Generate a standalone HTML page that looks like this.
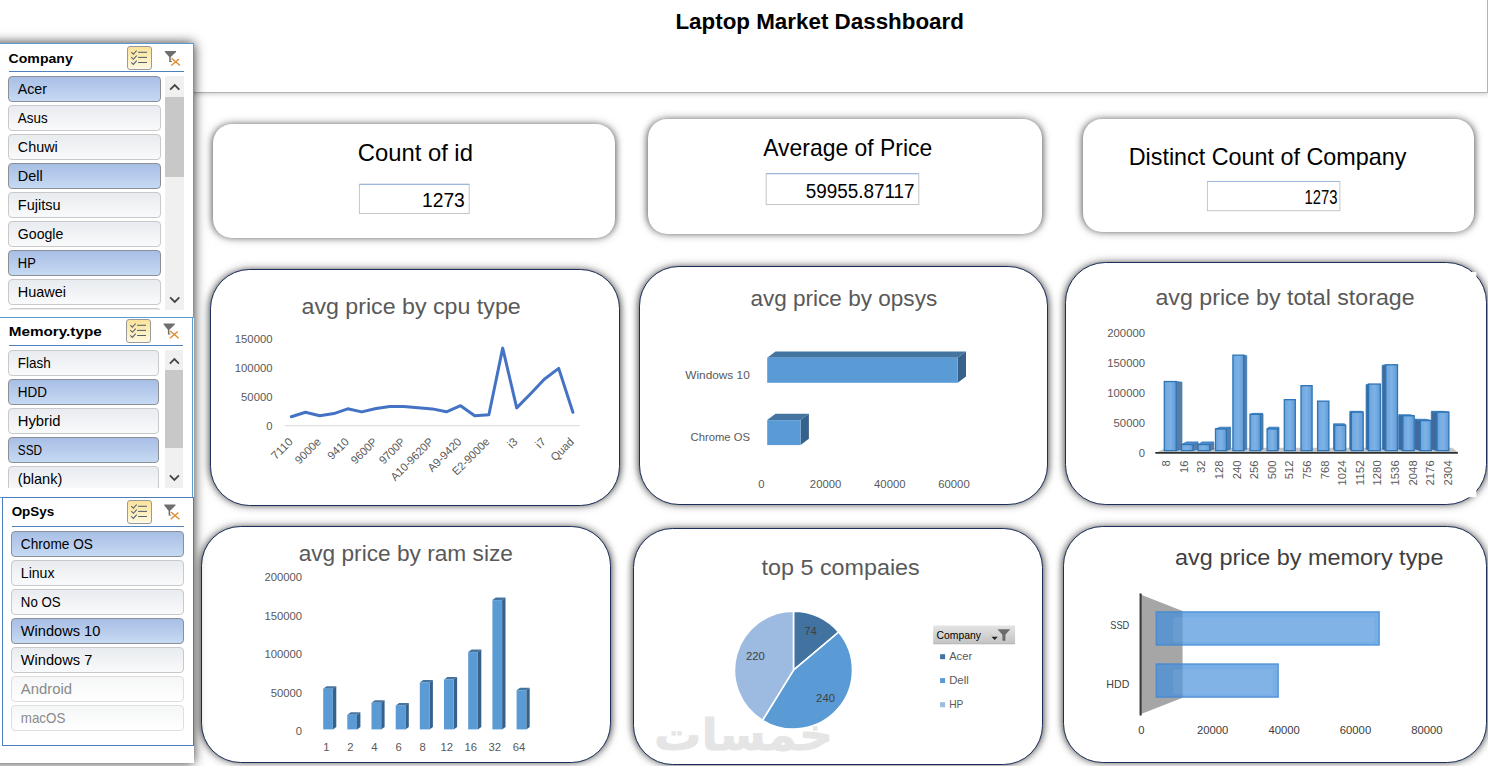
<!DOCTYPE html>
<html lang="en"><head><meta charset="utf-8"><title>Laptop Market Dasshboard</title>
<style>
html,body{margin:0;padding:0;background:#fff}
body{width:1488px;height:766px;overflow:hidden;position:relative;font-family:"Liberation Sans",sans-serif}
#page{position:absolute;left:0;top:0;width:1488px;height:766px;overflow:hidden;background:#fff}
.abs{position:absolute}
svg{display:block;overflow:visible}
svg text{font-family:"Liberation Sans",sans-serif}
.titlebox{position:absolute;box-sizing:border-box;background:#fff;border:1.1px solid #b2b2b2;border-left:0;box-shadow:0 2px 4px rgba(0,0,0,.16)}
.kpi{position:absolute;background:#fff;border-radius:18px;box-shadow:0 0 9px rgba(0,0,0,.5),-4px 0 7px -4px rgba(0,0,0,.4),4px 0 7px -4px rgba(0,0,0,.4)}
.kpi svg,.chart svg{position:absolute;left:0;top:0}
.chart{position:absolute;background:#fff;box-sizing:border-box;border:1.2px solid #1b2f5a;box-shadow:0 0 8px rgba(0,0,0,.5),-4px 0 7px -4px rgba(0,0,0,.45),4px 0 7px -4px rgba(0,0,0,.45)}
.panel{position:absolute;background:#fff;box-shadow:0 0 11px rgba(0,0,0,.8)}
.slicer{position:absolute;box-sizing:border-box;background:#fff;border:1px solid #5b9bd5}
.slicer.ops{border-color:#4a7ebb}
.msbtn{position:absolute;width:25px;height:24px;box-sizing:border-box;border:1px solid #9a9a9a;border-radius:3px;background:linear-gradient(#fbe39a 0%,#fcecb5 45%,#fff9e3 100%)}
.ul{position:absolute;height:0;border-top:1.2px solid #4f81bd}
.item{position:absolute;height:26px;box-sizing:border-box;border-radius:4px;border:1px solid #cfcfcf}
.item.sel{background:linear-gradient(#a8bee5,#c6daf3);border-color:#8b8f96}
.item.un{background:linear-gradient(#e8ebef,#f9fafb);border-color:#c9c9c9}
.item.dis{background:linear-gradient(#f5f6f7,#fff);border-color:#dedede}
.item svg.it{position:absolute;left:-1px;top:-1px}
.sb{position:absolute;background:#f0f0f0}
.sb .thumb{position:absolute;left:0;right:0;background:#c8c8c8}
.sb .arr{position:absolute;left:0}
</style></head>
<body><div id="page">
<div class="titlebox" style="left:-60px;top:-3px;width:1548px;height:95.7px"></div>
<div class="abs" style="left:600px;top:0;width:450px;height:50px"><svg class="" width="450" height="50" viewBox="600 0 450 50"><text x="675.40" y="29.10" font-size="22.70" textLength="288.57" lengthAdjust="spacingAndGlyphs" fill="#000" font-weight="bold">Laptop Market Dasshboard</text></svg></div>
<div class="kpi" style="left:212.7px;top:124.0px;width:402.40px;height:113.75px;border-radius:19.0px"><svg class="" width="402.4" height="113.75" viewBox="212.7 124.0 402.4 113.75"><text x="357.44" y="160.70" font-size="23.20" textLength="115.19" lengthAdjust="spacingAndGlyphs" fill="#000">Count of id</text><rect x="359.1" y="184.4" width="109.80" height="29.10" fill="#fff" stroke="#c6c6c6" stroke-width="1"/><line x1="359.1" y1="184.4" x2="468.9" y2="184.4" stroke="#9db7dd" stroke-width="1.1"/><text x="421.73" y="206.90" font-size="19.30" textLength="42.81" lengthAdjust="spacingAndGlyphs" fill="#000">1273</text></svg></div>
<div class="kpi" style="left:648.0px;top:118.8px;width:394.10px;height:115.30px;border-radius:19.2px"><svg class="" width="394.1" height="115.3" viewBox="648.0 118.8 394.1 115.3"><text x="763.26" y="155.50" font-size="23.20" textLength="168.96" lengthAdjust="spacingAndGlyphs" fill="#000">Average of Price</text><rect x="766.2" y="173.4" width="152.60" height="30.90" fill="#fff" stroke="#c6c6c6" stroke-width="1"/><line x1="766.2" y1="173.4" x2="918.8" y2="173.4" stroke="#9db7dd" stroke-width="1.1"/><text x="805.74" y="197.70" font-size="19.30" textLength="108.91" lengthAdjust="spacingAndGlyphs" fill="#000">59955.87117</text></svg></div>
<div class="kpi" style="left:1082.9px;top:118.9px;width:390.70px;height:113.40px;border-radius:18.9px"><svg class="" width="390.7" height="113.4" viewBox="1082.9 118.9 390.7 113.4"><text x="1128.58" y="164.80" font-size="23.20" textLength="277.76" lengthAdjust="spacingAndGlyphs" fill="#000">Distinct Count of Company</text><rect x="1207.3" y="181.4" width="132.50" height="29.20" fill="#fff" stroke="#c6c6c6" stroke-width="1"/><line x1="1207.3" y1="181.4" x2="1339.8" y2="181.4" stroke="#9db7dd" stroke-width="1.1"/><text x="1304.37" y="204.00" font-size="19.30" textLength="32.98" lengthAdjust="spacingAndGlyphs" fill="#000">1273</text></svg></div>
<div class="chart" style="left:209.8px;top:268.8px;width:410.30px;height:237.30px;border-radius:39.6px"><svg style="left:-1.2px;top:-1.2px" width="410.30" height="237.30" viewBox="209.8 268.8 410.30 237.30"><text x="301.31" y="314.10" font-size="22.50" textLength="219.22" lengthAdjust="spacingAndGlyphs" fill="#595959">avg price by cpu type</text><text x="234.59" y="342.90" font-size="11.41" textLength="37.71" lengthAdjust="spacingAndGlyphs" fill="#595959">150000</text><text x="234.59" y="371.90" font-size="11.41" textLength="37.71" lengthAdjust="spacingAndGlyphs" fill="#595959">100000</text><text x="240.88" y="400.90" font-size="11.41" textLength="31.42" lengthAdjust="spacingAndGlyphs" fill="#595959">50000</text><text x="266.02" y="429.90" font-size="11.41" textLength="6.28" lengthAdjust="spacingAndGlyphs" fill="#595959">0</text><line x1="284.4" y1="425.5" x2="579.4" y2="425.5" stroke="#d9d9d9" stroke-width="1"/><polyline fill="none" stroke="#4472c4" stroke-width="3" stroke-linejoin="round" stroke-linecap="round" points="291.1,416.5 305.3,412.1 319.5,415.6 333.7,413.4 347.5,408.6 361.5,411.7 375.9,408.3 389.7,406.2 403.5,406.2 417.9,407.5 432.1,408.7 446.2,411.6 460.4,405.5 474.5,415.6 488.7,414.6 502.5,347.9 516.5,407.7 530.9,393.0 544.1,379.1 558.5,368.2 572.7,412.1"/><text transform="translate(293.40 442.30) rotate(-45)" x="-25.14" y="0" font-size="11.41" textLength="25.14" lengthAdjust="spacingAndGlyphs" fill="#595959">7110</text><text transform="translate(321.50 442.30) rotate(-45)" x="-31.31" y="0" font-size="11.41" textLength="31.31" lengthAdjust="spacingAndGlyphs" fill="#595959">9000e</text><text transform="translate(349.60 442.30) rotate(-45)" x="-25.14" y="0" font-size="11.41" textLength="25.14" lengthAdjust="spacingAndGlyphs" fill="#595959">9410</text><text transform="translate(377.70 442.30) rotate(-45)" x="-31.55" y="0" font-size="11.41" textLength="31.55" lengthAdjust="spacingAndGlyphs" fill="#595959">9600P</text><text transform="translate(405.80 442.30) rotate(-45)" x="-31.55" y="0" font-size="11.41" textLength="31.55" lengthAdjust="spacingAndGlyphs" fill="#595959">9700P</text><text transform="translate(433.90 442.30) rotate(-45)" x="-55.09" y="0" font-size="11.41" textLength="55.09" lengthAdjust="spacingAndGlyphs" fill="#595959">A10-9620P</text><text transform="translate(462.00 442.30) rotate(-45)" x="-42.40" y="0" font-size="11.41" textLength="42.40" lengthAdjust="spacingAndGlyphs" fill="#595959">A9-9420</text><text transform="translate(490.10 442.30) rotate(-45)" x="-47.45" y="0" font-size="11.41" textLength="47.45" lengthAdjust="spacingAndGlyphs" fill="#595959">E2-9000e</text><text transform="translate(518.20 442.30) rotate(-45)" x="-9.13" y="0" font-size="11.41" textLength="9.13" lengthAdjust="spacingAndGlyphs" fill="#595959">i3</text><text transform="translate(546.30 442.30) rotate(-45)" x="-9.13" y="0" font-size="11.41" textLength="9.13" lengthAdjust="spacingAndGlyphs" fill="#595959">i7</text><text transform="translate(574.40 442.30) rotate(-45)" x="-27.31" y="0" font-size="11.41" textLength="27.31" lengthAdjust="spacingAndGlyphs" fill="#595959">Quad</text></svg></div>
<div class="chart" style="left:638.9px;top:265.8px;width:409.20px;height:239.30px;border-radius:39.9px"><svg style="left:-1.2px;top:-1.2px" width="409.20" height="239.30" viewBox="638.9 265.8 409.20 239.30"><text x="750.29" y="306.00" font-size="22.50" textLength="186.82" lengthAdjust="spacingAndGlyphs" fill="#595959">avg price by opsys</text><polygon points="767.1,357.5 775.4,351.2 965.9,351.2 957.6,357.5" fill="#4474a0"/><polygon points="957.6,357.5 965.9,351.2 965.9,376.3 957.6,382.6" fill="#36618a"/><rect x="767.1" y="357.5" width="190.5" height="25.100000000000023" fill="#5b9bd5"/><polygon points="767.1,419.9 775.4,413.59999999999997 808.8,413.59999999999997 800.5,419.9" fill="#4474a0"/><polygon points="800.5,419.9 808.8,413.59999999999997 808.8,438.59999999999997 800.5,444.9" fill="#36618a"/><rect x="767.1" y="419.9" width="33.39999999999998" height="25.0" fill="#5b9bd5"/><text x="685.15" y="378.70" font-size="11.40" textLength="64.51" lengthAdjust="spacingAndGlyphs" fill="#595959">Windows 10</text><text x="690.43" y="441.20" font-size="11.40" textLength="59.49" lengthAdjust="spacingAndGlyphs" fill="#595959">Chrome OS</text><text x="758.16" y="488.10" font-size="11.41" textLength="6.28" lengthAdjust="spacingAndGlyphs" fill="#595959">0</text><text x="809.79" y="488.10" font-size="11.41" textLength="31.42" lengthAdjust="spacingAndGlyphs" fill="#595959">20000</text><text x="873.99" y="488.10" font-size="11.41" textLength="31.42" lengthAdjust="spacingAndGlyphs" fill="#595959">40000</text><text x="938.19" y="488.10" font-size="11.41" textLength="31.42" lengthAdjust="spacingAndGlyphs" fill="#595959">60000</text></svg></div>
<div class="chart" style="left:1064.9px;top:261.85px;width:422.10px;height:243.25px;border-radius:40.5px"><svg style="left:-1.2px;top:-1.2px" width="422.10" height="243.25" viewBox="1064.9 261.85 422.10 243.25"><defs><linearGradient id="gbar" x1="0" x2="1" y1="0" y2="0"><stop offset="0" stop-color="#6aa5df"/><stop offset="0.5" stop-color="#7fb2e5"/><stop offset="1" stop-color="#5f9bd8"/></linearGradient></defs><rect x="1100" y="271.8" width="376.3" height="225.2" fill="#fff"/><text x="1155.36" y="304.90" font-size="22.50" textLength="259.17" lengthAdjust="spacingAndGlyphs" fill="#595959">avg price by total storage</text><text x="1107.19" y="337.30" font-size="11.41" textLength="37.71" lengthAdjust="spacingAndGlyphs" fill="#595959">200000</text><text x="1107.19" y="367.25" font-size="11.41" textLength="37.71" lengthAdjust="spacingAndGlyphs" fill="#595959">150000</text><text x="1107.19" y="397.20" font-size="11.41" textLength="37.71" lengthAdjust="spacingAndGlyphs" fill="#595959">100000</text><text x="1113.48" y="427.15" font-size="11.41" textLength="31.42" lengthAdjust="spacingAndGlyphs" fill="#595959">50000</text><text x="1138.62" y="457.10" font-size="11.41" textLength="6.28" lengthAdjust="spacingAndGlyphs" fill="#595959">0</text><polygon points="1157,452 1166,447.5 1452,447.5 1458,452" fill="#c6c6c6"/><line x1="1155.2" y1="452.7" x2="1457.8" y2="452.7" stroke="#303030" stroke-width="1.7"/><polygon points="1176.1,381.4 1181.8,382.00 1181.8,448.9 1176.1,450.5" fill="#5d7ba0" stroke="#2e75b6" stroke-width="0.8"/><rect x="1164.2" y="381.4" width="11.9" height="69.1" fill="url(#gbar)" stroke="#2e75b6" stroke-width="1.3"/><polygon points="1192.8,444.4 1198,442.39 1198,448.9 1192.8,450.5" fill="#5d7ba0" stroke="#2e75b6" stroke-width="0.8"/><polygon points="1181.3,444.4 1186.50,441.79 1198,441.79 1192.8,444.4" fill="#4f8fd3" stroke="#2e75b6" stroke-width="0.8"/><rect x="1181.3" y="444.4" width="11.5" height="6.1" fill="url(#gbar)" stroke="#2e75b6" stroke-width="1.3"/><polygon points="1209.6,444.4 1213.7,442.39 1213.7,448.9 1209.6,450.5" fill="#5d7ba0" stroke="#2e75b6" stroke-width="0.8"/><polygon points="1198,444.4 1202.10,441.79 1213.7,441.79 1209.6,444.4" fill="#4f8fd3" stroke="#2e75b6" stroke-width="0.8"/><rect x="1198" y="444.4" width="11.6" height="6.1" fill="url(#gbar)" stroke="#2e75b6" stroke-width="1.3"/><polygon points="1226.3,428.8 1230.5,427.65 1230.5,448.9 1226.3,450.5" fill="#5d7ba0" stroke="#2e75b6" stroke-width="0.8"/><polygon points="1215.4,428.8 1219.60,427.05 1230.5,427.05 1226.3,428.8" fill="#4f8fd3" stroke="#2e75b6" stroke-width="0.8"/><rect x="1215.4" y="428.8" width="10.9" height="21.7" fill="url(#gbar)" stroke="#2e75b6" stroke-width="1.3"/><polygon points="1243.6,355 1246.6,355.60 1246.6,448.9 1243.6,450.5" fill="#5d7ba0" stroke="#2e75b6" stroke-width="0.8"/><rect x="1232.8" y="355" width="10.8" height="95.5" fill="url(#gbar)" stroke="#2e75b6" stroke-width="1.3"/><polygon points="1260.3,414.2 1262.9,413.85 1262.9,448.9 1260.3,450.5" fill="#5d7ba0" stroke="#2e75b6" stroke-width="0.8"/><polygon points="1249.9,414.2 1252.50,413.25 1262.9,413.25 1260.3,414.2" fill="#4f8fd3" stroke="#2e75b6" stroke-width="0.8"/><rect x="1249.9" y="414.2" width="10.4" height="36.3" fill="url(#gbar)" stroke="#2e75b6" stroke-width="1.3"/><polygon points="1277.5,428.8 1278.9,427.65 1278.9,448.9 1277.5,450.5" fill="#5d7ba0" stroke="#2e75b6" stroke-width="0.8"/><polygon points="1267,428.8 1268.40,427.05 1278.9,427.05 1277.5,428.8" fill="#4f8fd3" stroke="#2e75b6" stroke-width="0.8"/><rect x="1267" y="428.8" width="10.5" height="21.7" fill="url(#gbar)" stroke="#2e75b6" stroke-width="1.3"/><rect x="1284.2" y="399.5" width="11.0" height="51.0" fill="url(#gbar)" stroke="#2e75b6" stroke-width="1.3"/><rect x="1300.9" y="385.5" width="11.1" height="65.0" fill="url(#gbar)" stroke="#2e75b6" stroke-width="1.3"/><rect x="1317.5" y="401" width="11.3" height="49.5" fill="url(#gbar)" stroke="#2e75b6" stroke-width="1.3"/><polygon points="1334.5,425.2 1333.4,424.25 1333.4,448.9 1334.5,450.5" fill="#3f6a9a" stroke="#2e75b6" stroke-width="0.8"/><polygon points="1334.5,425.2 1333.4,423.65 1344.50,423.65 1345.6,425.2" fill="#4f8fd3" stroke="#2e75b6" stroke-width="0.8"/><rect x="1334.5" y="425.2" width="11.1" height="25.3" fill="url(#gbar)" stroke="#2e75b6" stroke-width="1.3"/><polygon points="1351.2,412 1349.7,411.78 1349.7,448.9 1351.2,450.5" fill="#3f6a9a" stroke="#2e75b6" stroke-width="0.8"/><polygon points="1351.2,412 1349.7,411.18 1361.60,411.18 1363.1,412" fill="#4f8fd3" stroke="#2e75b6" stroke-width="0.8"/><rect x="1351.2" y="412" width="11.9" height="38.5" fill="url(#gbar)" stroke="#2e75b6" stroke-width="1.3"/><polygon points="1368.5,383.9 1366,384.50 1366,448.9 1368.5,450.5" fill="#3f6a9a" stroke="#2e75b6" stroke-width="0.8"/><rect x="1368.5" y="383.9" width="11.8" height="66.6" fill="url(#gbar)" stroke="#2e75b6" stroke-width="1.3"/><polygon points="1385.7,364.6 1382.1,365.20 1382.1,448.9 1385.7,450.5" fill="#3f6a9a" stroke="#2e75b6" stroke-width="0.8"/><rect x="1385.7" y="364.6" width="11.7" height="85.9" fill="url(#gbar)" stroke="#2e75b6" stroke-width="1.3"/><polygon points="1402.8,415.6 1398.6,415.18 1398.6,448.9 1402.8,450.5" fill="#3f6a9a" stroke="#2e75b6" stroke-width="0.8"/><polygon points="1402.8,415.6 1398.6,414.58 1409.90,414.58 1414.1,415.6" fill="#4f8fd3" stroke="#2e75b6" stroke-width="0.8"/><rect x="1402.8" y="415.6" width="11.3" height="34.9" fill="url(#gbar)" stroke="#2e75b6" stroke-width="1.3"/><polygon points="1420.2,420.4 1414.9,419.71 1414.9,448.9 1420.2,450.5" fill="#3f6a9a" stroke="#2e75b6" stroke-width="0.8"/><polygon points="1420.2,420.4 1414.9,419.11 1425.90,419.11 1431.2,420.4" fill="#4f8fd3" stroke="#2e75b6" stroke-width="0.8"/><rect x="1420.2" y="420.4" width="11.0" height="30.1" fill="url(#gbar)" stroke="#2e75b6" stroke-width="1.3"/><polygon points="1436.9,412 1431.2,411.78 1431.2,448.9 1436.9,450.5" fill="#3f6a9a" stroke="#2e75b6" stroke-width="0.8"/><polygon points="1436.9,412 1431.2,411.18 1443.10,411.18 1448.8,412" fill="#4f8fd3" stroke="#2e75b6" stroke-width="0.8"/><rect x="1436.9" y="412" width="11.9" height="38.5" fill="url(#gbar)" stroke="#2e75b6" stroke-width="1.3"/><text transform="translate(1170.10 460.20) rotate(-90)" x="-6.28" y="0" font-size="11.41" textLength="6.28" lengthAdjust="spacingAndGlyphs" fill="#595959">8</text><text transform="translate(1187.70 460.20) rotate(-90)" x="-12.57" y="0" font-size="11.41" textLength="12.57" lengthAdjust="spacingAndGlyphs" fill="#595959">16</text><text transform="translate(1205.30 460.20) rotate(-90)" x="-12.57" y="0" font-size="11.41" textLength="12.57" lengthAdjust="spacingAndGlyphs" fill="#595959">32</text><text transform="translate(1222.90 460.20) rotate(-90)" x="-18.85" y="0" font-size="11.41" textLength="18.85" lengthAdjust="spacingAndGlyphs" fill="#595959">128</text><text transform="translate(1240.50 460.20) rotate(-90)" x="-18.85" y="0" font-size="11.41" textLength="18.85" lengthAdjust="spacingAndGlyphs" fill="#595959">240</text><text transform="translate(1258.10 460.20) rotate(-90)" x="-18.85" y="0" font-size="11.41" textLength="18.85" lengthAdjust="spacingAndGlyphs" fill="#595959">256</text><text transform="translate(1275.70 460.20) rotate(-90)" x="-18.85" y="0" font-size="11.41" textLength="18.85" lengthAdjust="spacingAndGlyphs" fill="#595959">500</text><text transform="translate(1293.30 460.20) rotate(-90)" x="-18.85" y="0" font-size="11.41" textLength="18.85" lengthAdjust="spacingAndGlyphs" fill="#595959">512</text><text transform="translate(1310.90 460.20) rotate(-90)" x="-18.85" y="0" font-size="11.41" textLength="18.85" lengthAdjust="spacingAndGlyphs" fill="#595959">756</text><text transform="translate(1328.50 460.20) rotate(-90)" x="-18.85" y="0" font-size="11.41" textLength="18.85" lengthAdjust="spacingAndGlyphs" fill="#595959">768</text><text transform="translate(1346.10 460.20) rotate(-90)" x="-25.14" y="0" font-size="11.41" textLength="25.14" lengthAdjust="spacingAndGlyphs" fill="#595959">1024</text><text transform="translate(1363.70 460.20) rotate(-90)" x="-25.14" y="0" font-size="11.41" textLength="25.14" lengthAdjust="spacingAndGlyphs" fill="#595959">1152</text><text transform="translate(1381.30 460.20) rotate(-90)" x="-25.14" y="0" font-size="11.41" textLength="25.14" lengthAdjust="spacingAndGlyphs" fill="#595959">1280</text><text transform="translate(1398.90 460.20) rotate(-90)" x="-25.14" y="0" font-size="11.41" textLength="25.14" lengthAdjust="spacingAndGlyphs" fill="#595959">1536</text><text transform="translate(1416.50 460.20) rotate(-90)" x="-25.14" y="0" font-size="11.41" textLength="25.14" lengthAdjust="spacingAndGlyphs" fill="#595959">2048</text><text transform="translate(1434.10 460.20) rotate(-90)" x="-25.14" y="0" font-size="11.41" textLength="25.14" lengthAdjust="spacingAndGlyphs" fill="#595959">2176</text><text transform="translate(1451.70 460.20) rotate(-90)" x="-25.14" y="0" font-size="11.41" textLength="25.14" lengthAdjust="spacingAndGlyphs" fill="#595959">2304</text></svg></div>
<div class="chart" style="left:200.8px;top:525.8px;width:410.30px;height:237.30px;border-radius:39.6px"><svg style="left:-1.2px;top:-1.2px" width="410.30" height="237.30" viewBox="200.8 525.8 410.30 237.30"><text x="298.44" y="561.00" font-size="22.50" textLength="214.27" lengthAdjust="spacingAndGlyphs" fill="#595959">avg price by ram size</text><text x="264.19" y="580.90" font-size="11.41" textLength="37.71" lengthAdjust="spacingAndGlyphs" fill="#595959">200000</text><text x="264.19" y="619.40" font-size="11.41" textLength="37.71" lengthAdjust="spacingAndGlyphs" fill="#595959">150000</text><text x="264.19" y="657.90" font-size="11.41" textLength="37.71" lengthAdjust="spacingAndGlyphs" fill="#595959">100000</text><text x="270.48" y="696.40" font-size="11.41" textLength="31.42" lengthAdjust="spacingAndGlyphs" fill="#595959">50000</text><text x="295.62" y="734.90" font-size="11.41" textLength="6.28" lengthAdjust="spacingAndGlyphs" fill="#595959">0</text><polygon points="323.0,688.5 326.4,686.0 336.09999999999997,686.0 332.7,688.5" fill="#4474a0"/><polygon points="332.7,688.5 336.09999999999997,686.0 336.09999999999997,726.7 332.7,729.2" fill="#36618a"/><rect x="323.0" y="688.5" width="9.7" height="40.7" fill="#5b9bd5"/><polygon points="347.1,714.6 350.5,712.1 360.2,712.1 356.8,714.6" fill="#4474a0"/><polygon points="356.8,714.6 360.2,712.1 360.2,726.7 356.8,729.2" fill="#36618a"/><rect x="347.1" y="714.6" width="9.7" height="14.6" fill="#5b9bd5"/><polygon points="371.3,702.6 374.7,700.1 384.4,700.1 381.0,702.6" fill="#4474a0"/><polygon points="381.0,702.6 384.4,700.1 384.4,726.7 381.0,729.2" fill="#36618a"/><rect x="371.3" y="702.6" width="9.7" height="26.6" fill="#5b9bd5"/><polygon points="395.5,705.2 398.9,702.7 408.59999999999997,702.7 405.2,705.2" fill="#4474a0"/><polygon points="405.2,705.2 408.59999999999997,702.7 408.59999999999997,726.7 405.2,729.2" fill="#36618a"/><rect x="395.5" y="705.2" width="9.7" height="24.0" fill="#5b9bd5"/><polygon points="419.6,682.2 423.0,679.7 432.7,679.7 429.3,682.2" fill="#4474a0"/><polygon points="429.3,682.2 432.7,679.7 432.7,726.7 429.3,729.2" fill="#36618a"/><rect x="419.6" y="682.2" width="9.7" height="47.0" fill="#5b9bd5"/><polygon points="443.8,679.3 447.2,676.8 456.9,676.8 453.5,679.3" fill="#4474a0"/><polygon points="453.5,679.3 456.9,676.8 456.9,726.7 453.5,729.2" fill="#36618a"/><rect x="443.8" y="679.3" width="9.7" height="49.9" fill="#5b9bd5"/><polygon points="468.0,651.9 471.4,649.4 481.09999999999997,649.4 477.7,651.9" fill="#4474a0"/><polygon points="477.7,651.9 481.09999999999997,649.4 481.09999999999997,726.7 477.7,729.2" fill="#36618a"/><rect x="468.0" y="651.9" width="9.7" height="77.3" fill="#5b9bd5"/><polygon points="492.2,599.9 495.59999999999997,597.4 505.29999999999995,597.4 501.9,599.9" fill="#4474a0"/><polygon points="501.9,599.9 505.29999999999995,597.4 505.29999999999995,726.7 501.9,729.2" fill="#36618a"/><rect x="492.2" y="599.9" width="9.7" height="129.3" fill="#5b9bd5"/><polygon points="516.4,690 519.8,687.5 529.5,687.5 526.1,690" fill="#4474a0"/><polygon points="526.1,690 529.5,687.5 529.5,726.7 526.1,729.2" fill="#36618a"/><rect x="516.4" y="690" width="9.7" height="39.2" fill="#5b9bd5"/><text x="322.96" y="751.30" font-size="11.41" textLength="6.28" lengthAdjust="spacingAndGlyphs" fill="#595959">1</text><text x="347.04" y="751.30" font-size="11.41" textLength="6.28" lengthAdjust="spacingAndGlyphs" fill="#595959">2</text><text x="371.12" y="751.30" font-size="11.41" textLength="6.28" lengthAdjust="spacingAndGlyphs" fill="#595959">4</text><text x="395.20" y="751.30" font-size="11.41" textLength="6.28" lengthAdjust="spacingAndGlyphs" fill="#595959">6</text><text x="419.28" y="751.30" font-size="11.41" textLength="6.28" lengthAdjust="spacingAndGlyphs" fill="#595959">8</text><text x="440.22" y="751.30" font-size="11.41" textLength="12.57" lengthAdjust="spacingAndGlyphs" fill="#595959">12</text><text x="464.30" y="751.30" font-size="11.41" textLength="12.57" lengthAdjust="spacingAndGlyphs" fill="#595959">16</text><text x="488.38" y="751.30" font-size="11.41" textLength="12.57" lengthAdjust="spacingAndGlyphs" fill="#595959">32</text><text x="512.46" y="751.30" font-size="11.41" textLength="12.57" lengthAdjust="spacingAndGlyphs" fill="#595959">64</text></svg></div>
<div class="chart" style="left:632.9px;top:527.8px;width:410.20px;height:237.30px;border-radius:39.6px"><svg style="left:-1.2px;top:-1.2px" width="410.20" height="237.30" viewBox="632.9 527.8 410.20 237.30"><text x="761.45" y="575.00" font-size="22.50" textLength="158.15" lengthAdjust="spacingAndGlyphs" fill="#595959">top 5 compaies</text><path d="M793.4,669.9 L793.40,610.90 A59.0,59.0 0 0 1 838.52,631.89 Z" fill="#4273a0" stroke="#fff" stroke-width="1.6" stroke-linejoin="round"/><path d="M793.4,669.9 L838.52,631.89 A59.0,59.0 0 0 1 762.41,720.11 Z" fill="#5b9bd5" stroke="#fff" stroke-width="1.6" stroke-linejoin="round"/><path d="M793.4,669.9 L762.41,720.11 A59.0,59.0 0 0 1 793.40,610.90 Z" fill="#9dbbe1" stroke="#fff" stroke-width="1.6" stroke-linejoin="round"/><text x="804.15" y="634.38" font-size="11.41" textLength="12.57" lengthAdjust="spacingAndGlyphs" fill="#404040">74</text><text x="816.04" y="702.21" font-size="11.41" textLength="18.85" lengthAdjust="spacingAndGlyphs" fill="#404040">240</text><text x="745.88" y="659.44" font-size="11.41" textLength="18.85" lengthAdjust="spacingAndGlyphs" fill="#404040">220</text><defs><linearGradient id="gbtn" x1="0" x2="0" y1="0" y2="1"><stop offset="0" stop-color="#e4e4e4"/><stop offset="1" stop-color="#c2c2c2"/></linearGradient></defs><rect x="933.1" y="625.3" width="81.9" height="18.6" fill="url(#gbtn)"/><line x1="933.1" y1="643.6" x2="1015" y2="643.6" stroke="#b4b4b4" stroke-width="0.7"/><text x="936.50" y="638.40" font-size="10.90" textLength="44.30" lengthAdjust="spacingAndGlyphs" fill="#000">Company</text><polygon points="991.4,636.6 997.7,636.6 994.55,639.7" fill="#222"/><path d="M997.4,629 h12.8 l-4.9,5.6 v6 h-3 v-6 z" fill="#6b6b6b"/><rect x="940" y="654.0" width="5" height="5" fill="#4273a0"/><text x="949.10" y="659.40" font-size="11.41" textLength="22.91" lengthAdjust="spacingAndGlyphs" fill="#595959">Acer</text><rect x="940" y="677.9" width="5" height="5" fill="#5b9bd5"/><text x="949.10" y="683.50" font-size="11.41" textLength="19.49" lengthAdjust="spacingAndGlyphs" fill="#595959">Dell</text><rect x="940" y="702.0" width="5" height="5" fill="#9dbbe1"/><text x="949.10" y="707.60" font-size="11.41" textLength="14.13" lengthAdjust="spacingAndGlyphs" fill="#595959">HP</text><text transform="translate(833 750) scale(1 1.1)" x="0" y="0" font-size="40" font-weight="bold" fill="#bdbdbd" stroke="#bdbdbd" stroke-width="0.8" opacity="0.38" text-anchor="start" direction="rtl" unicode-bidi="embed" style="font-family:'DejaVu Sans',sans-serif" textLength="179" lengthAdjust="spacingAndGlyphs">خمسات</text></svg></div>
<div class="chart" style="left:1062.9px;top:525.75px;width:424.60px;height:237.25px;border-radius:39.5px"><svg style="left:-1.2px;top:-1.2px" width="424.60" height="237.25" viewBox="1062.9 525.75 424.60 237.25"><text x="1175.00" y="565.20" font-size="22.50" textLength="268.34" lengthAdjust="spacingAndGlyphs" fill="#404040">avg price by memory type</text><polygon points="1141,594.6 1182.5,610.8 1182.5,697.4 1141,713.8" fill="#a6a6a6"/><line x1="1140.5" y1="594" x2="1140.5" y2="714.4" stroke="#3a3a3a" stroke-width="2.1" stroke-linecap="round"/><rect x="1156.1" y="611.6" width="223.0" height="33.2" fill="#448fdc" fill-opacity="0.72"/><rect x="1173.1" y="617.1" width="201.0" height="24.7" fill="#fff" fill-opacity="0.07"/><rect x="1156.1" y="611.6" width="223.0" height="33.2" fill="none" stroke="#3f88d3" stroke-opacity="0.85" stroke-width="1.3"/><rect x="1156.1" y="663.7" width="122.0" height="33.2" fill="#448fdc" fill-opacity="0.72"/><rect x="1173.1" y="669.2" width="100.0" height="24.7" fill="#fff" fill-opacity="0.07"/><rect x="1156.1" y="663.7" width="122.0" height="33.2" fill="none" stroke="#3f88d3" stroke-opacity="0.85" stroke-width="1.3"/><text x="1110.18" y="628.40" font-size="11.41" textLength="19.02" lengthAdjust="spacingAndGlyphs" fill="#404040">SSD</text><text x="1106.22" y="688.10" font-size="11.41" textLength="22.98" lengthAdjust="spacingAndGlyphs" fill="#404040">HDD</text><text x="1138.06" y="733.90" font-size="11.41" textLength="6.28" lengthAdjust="spacingAndGlyphs" fill="#404040">0</text><text x="1196.89" y="733.90" font-size="11.41" textLength="31.42" lengthAdjust="spacingAndGlyphs" fill="#404040">20000</text><text x="1268.29" y="733.90" font-size="11.41" textLength="31.42" lengthAdjust="spacingAndGlyphs" fill="#404040">40000</text><text x="1339.69" y="733.90" font-size="11.41" textLength="31.42" lengthAdjust="spacingAndGlyphs" fill="#404040">60000</text><text x="1411.09" y="733.90" font-size="11.41" textLength="31.42" lengthAdjust="spacingAndGlyphs" fill="#404040">80000</text></svg></div>
<div class="panel" style="left:-30px;top:43.3px;width:224.1px;height:719.8px"></div>
<div class="slicer " style="left:-3px;top:43px;width:197px;height:275px;border-width:1px"><div class="msbtn" style="left:129.00px;top:2.00px"></div><div class="ul" style="left:11.00px;top:26.90px;width:175.00px"></div><svg class="abs" style="left:2.00px;top:-44.00px" width="200" height="766" viewBox="0 0 200 766"><text x="8.62" y="62.70" font-size="13.30" textLength="64.15" lengthAdjust="spacingAndGlyphs" fill="#000" font-weight="bold">Company</text><g fill="none" stroke="#566070" stroke-width="1.05"><path d="M131.30 52.10 L133.40 54.20 L136.70 50.50"/><path d="M138.10 52.30 H147.00"/><path d="M131.30 57.20 L133.40 59.30 L136.70 55.60"/><path d="M138.10 57.40 H147.00"/><path d="M131.30 62.30 L133.40 64.40 L136.70 60.70"/><path d="M138.10 62.50 H147.00"/></g><g transform="translate(0.00 0.00)"><path d="M164.9 50.9 H176.1 V51.9 L170.7 57.1 V61 H171.9 V61.9 H169.2 V57.1 L164.9 51.9 Z" fill="#6d6e70"/><path d="M171.5 58.2 L180 65.5 M179 58.9 L171.3 65.5" stroke="#e08a2c" stroke-width="1.35" fill="none"/></g></svg><div class="abs" style="left:2.00px;top:32.00px;width:194px;height:233.70px;overflow:hidden"><div class="item sel" style="left:8.20px;top:0.00px;width:152.80px"><svg class="it" width="152.8" height="26" viewBox="0 0 152.8 26"><text x="9.80" y="17.90" font-size="14.20" textLength="29.19" lengthAdjust="spacingAndGlyphs" fill="#000">Acer</text></svg></div><div class="item un" style="left:8.20px;top:29.05px;width:152.80px"><svg class="it" width="152.8" height="26" viewBox="0 0 152.8 26"><text x="9.80" y="17.90" font-size="14.20" textLength="29.80" lengthAdjust="spacingAndGlyphs" fill="#000">Asus</text></svg></div><div class="item un" style="left:8.20px;top:58.10px;width:152.80px"><svg class="it" width="152.8" height="26" viewBox="0 0 152.8 26"><text x="9.80" y="17.90" font-size="14.20" textLength="39.95" lengthAdjust="spacingAndGlyphs" fill="#000">Chuwi</text></svg></div><div class="item sel" style="left:8.20px;top:87.15px;width:152.80px"><svg class="it" width="152.8" height="26" viewBox="0 0 152.8 26"><text x="9.80" y="17.90" font-size="14.20" textLength="24.83" lengthAdjust="spacingAndGlyphs" fill="#000">Dell</text></svg></div><div class="item un" style="left:8.20px;top:116.20px;width:152.80px"><svg class="it" width="152.8" height="26" viewBox="0 0 152.8 26"><text x="9.80" y="17.90" font-size="14.20" textLength="42.74" lengthAdjust="spacingAndGlyphs" fill="#000">Fujitsu</text></svg></div><div class="item un" style="left:8.20px;top:145.25px;width:152.80px"><svg class="it" width="152.8" height="26" viewBox="0 0 152.8 26"><text x="9.80" y="17.90" font-size="14.20" textLength="45.56" lengthAdjust="spacingAndGlyphs" fill="#000">Google</text></svg></div><div class="item sel" style="left:8.20px;top:174.30px;width:152.80px"><svg class="it" width="152.8" height="26" viewBox="0 0 152.8 26"><text x="9.80" y="17.90" font-size="14.20" textLength="18.01" lengthAdjust="spacingAndGlyphs" fill="#000">HP</text></svg></div><div class="item un" style="left:8.20px;top:203.35px;width:152.80px"><svg class="it" width="152.8" height="26" viewBox="0 0 152.8 26"><text x="9.80" y="17.90" font-size="14.20" textLength="48.25" lengthAdjust="spacingAndGlyphs" fill="#000">Huawei</text></svg></div><div class="item un" style="left:8.20px;top:232.40px;width:152.80px"></div></div><div class="sb" style="left:167.00px;top:32.00px;width:19.30px;height:233.70px"><div class="thumb" style="top:21.00px;height:79.80px"></div><svg class="arr" style="top:5px" width="19.30" height="12" viewBox="0 0 19 12"><path d="M5 8.6 l4.6-4.6 l4.6 4.6" fill="none" stroke="#444" stroke-width="1.8"/></svg><svg class="arr" style="bottom:4px" width="19.30" height="12" viewBox="0 0 19 12"><path d="M5 3.4 l4.6 4.6 l4.6-4.6" fill="none" stroke="#444" stroke-width="1.8"/></svg></div></div>
<div class="slicer " style="left:-3px;top:317px;width:196px;height:181px;border-width:1px"><div class="msbtn" style="left:128.00px;top:1.00px"></div><div class="ul" style="left:11.00px;top:26.70px;width:173.50px"></div><svg class="abs" style="left:2.00px;top:-318.00px" width="200" height="766" viewBox="0 0 200 766"><text x="8.68" y="335.80" font-size="13.30" textLength="93.04" lengthAdjust="spacingAndGlyphs" fill="#000" font-weight="bold">Memory.type</text><g fill="none" stroke="#566070" stroke-width="1.05"><path d="M130.30 325.10 L132.40 327.20 L135.70 323.50"/><path d="M137.10 325.30 H146.00"/><path d="M130.30 330.20 L132.40 332.30 L135.70 328.60"/><path d="M137.10 330.40 H146.00"/><path d="M130.30 335.30 L132.40 337.40 L135.70 333.70"/><path d="M137.10 335.50 H146.00"/></g><g transform="translate(-1.30 272.70)"><path d="M164.9 50.9 H176.1 V51.9 L170.7 57.1 V61 H171.9 V61.9 H169.2 V57.1 L164.9 51.9 Z" fill="#6d6e70"/><path d="M171.5 58.2 L180 65.5 M179 58.9 L171.3 65.5" stroke="#e08a2c" stroke-width="1.35" fill="none"/></g></svg><div class="abs" style="left:2.00px;top:32.00px;width:194px;height:137.50px;overflow:hidden"><div class="item un" style="left:8.20px;top:0.00px;width:151.10px"><svg class="it" width="151.1" height="26" viewBox="0 0 151.1 26"><text x="9.80" y="17.90" font-size="14.20" textLength="32.93" lengthAdjust="spacingAndGlyphs" fill="#000">Flash</text></svg></div><div class="item sel" style="left:8.20px;top:29.05px;width:151.10px"><svg class="it" width="151.1" height="26" viewBox="0 0 151.1 26"><text x="9.80" y="17.90" font-size="14.20" textLength="29.29" lengthAdjust="spacingAndGlyphs" fill="#000">HDD</text></svg></div><div class="item un" style="left:8.20px;top:58.10px;width:151.10px"><svg class="it" width="151.1" height="26" viewBox="0 0 151.1 26"><text x="9.80" y="17.90" font-size="14.20" textLength="42.73" lengthAdjust="spacingAndGlyphs" fill="#000">Hybrid</text></svg></div><div class="item sel" style="left:8.20px;top:87.15px;width:151.10px"><svg class="it" width="151.1" height="26" viewBox="0 0 151.1 26"><text x="9.80" y="17.90" font-size="14.20" textLength="24.24" lengthAdjust="spacingAndGlyphs" fill="#000">SSD</text></svg></div><div class="item un" style="left:8.20px;top:116.20px;width:151.10px"><svg class="it" width="151.1" height="26" viewBox="0 0 151.1 26"><text x="9.80" y="17.90" font-size="14.20" textLength="44.56" lengthAdjust="spacingAndGlyphs" fill="#000">(blank)</text></svg></div></div><div class="sb" style="left:166.70px;top:32.00px;width:18.60px;height:137.50px"><div class="thumb" style="top:20.00px;height:77.50px"></div><svg class="arr" style="top:5px" width="18.60" height="12" viewBox="0 0 19 12"><path d="M5 8.6 l4.6-4.6 l4.6 4.6" fill="none" stroke="#444" stroke-width="1.8"/></svg><svg class="arr" style="bottom:4px" width="18.60" height="12" viewBox="0 0 19 12"><path d="M5 3.4 l4.6 4.6 l4.6-4.6" fill="none" stroke="#444" stroke-width="1.8"/></svg></div></div>
<div class="slicer ops" style="left:2px;top:497px;width:192px;height:249px;border-width:1px"><div class="msbtn" style="left:124.00px;top:2.00px"></div><div class="ul" style="left:9.00px;top:27.60px;width:171.50px"></div><svg class="abs" style="left:-3.00px;top:-498.00px" width="200" height="766" viewBox="0 0 200 766"><text x="11.65" y="516.40" font-size="13.30" textLength="42.60" lengthAdjust="spacingAndGlyphs" fill="#000" font-weight="bold">OpSys</text><g fill="none" stroke="#566070" stroke-width="1.05"><path d="M131.30 506.10 L133.40 508.20 L136.70 504.50"/><path d="M138.10 506.30 H147.00"/><path d="M131.30 511.20 L133.40 513.30 L136.70 509.60"/><path d="M138.10 511.40 H147.00"/><path d="M131.30 516.30 L133.40 518.40 L136.70 514.70"/><path d="M138.10 516.50 H147.00"/></g><g transform="translate(-0.60 453.70)"><path d="M164.9 50.9 H176.1 V51.9 L170.7 57.1 V61 H171.9 V61.9 H169.2 V57.1 L164.9 51.9 Z" fill="#6d6e70"/><path d="M171.5 58.2 L180 65.5 M179 58.9 L171.3 65.5" stroke="#e08a2c" stroke-width="1.35" fill="none"/></g></svg><div class="abs" style="left:-3.00px;top:32.80px;width:194px;height:209.20px;overflow:hidden"><div class="item sel" style="left:11.40px;top:0.00px;width:172.90px"><svg class="it" width="172.9" height="26" viewBox="0 0 172.9 26"><text x="9.80" y="17.90" font-size="14.20" textLength="72.09" lengthAdjust="spacingAndGlyphs" fill="#000">Chrome OS</text></svg></div><div class="item un" style="left:11.40px;top:29.05px;width:172.90px"><svg class="it" width="172.9" height="26" viewBox="0 0 172.9 26"><text x="9.80" y="17.90" font-size="14.20" textLength="33.71" lengthAdjust="spacingAndGlyphs" fill="#000">Linux</text></svg></div><div class="item un" style="left:11.40px;top:58.10px;width:172.90px"><svg class="it" width="172.9" height="26" viewBox="0 0 172.9 26"><text x="9.80" y="17.90" font-size="14.20" textLength="39.82" lengthAdjust="spacingAndGlyphs" fill="#000">No OS</text></svg></div><div class="item sel" style="left:11.40px;top:87.15px;width:172.90px"><svg class="it" width="172.9" height="26" viewBox="0 0 172.9 26"><text x="9.80" y="17.90" font-size="14.20" textLength="79.48" lengthAdjust="spacingAndGlyphs" fill="#000">Windows 10</text></svg></div><div class="item un" style="left:11.40px;top:116.20px;width:172.90px"><svg class="it" width="172.9" height="26" viewBox="0 0 172.9 26"><text x="9.80" y="17.90" font-size="14.20" textLength="71.47" lengthAdjust="spacingAndGlyphs" fill="#000">Windows 7</text></svg></div><div class="item dis" style="left:11.40px;top:145.25px;width:172.90px"><svg class="it" width="172.9" height="26" viewBox="0 0 172.9 26"><text x="9.80" y="17.90" font-size="14.20" textLength="51.26" lengthAdjust="spacingAndGlyphs" fill="#8a8a8a">Android</text></svg></div><div class="item dis" style="left:11.40px;top:174.30px;width:172.90px"><svg class="it" width="172.9" height="26" viewBox="0 0 172.9 26"><text x="9.80" y="17.90" font-size="14.20" textLength="44.59" lengthAdjust="spacingAndGlyphs" fill="#8a8a8a">macOS</text></svg></div></div></div>
</div></body></html>
